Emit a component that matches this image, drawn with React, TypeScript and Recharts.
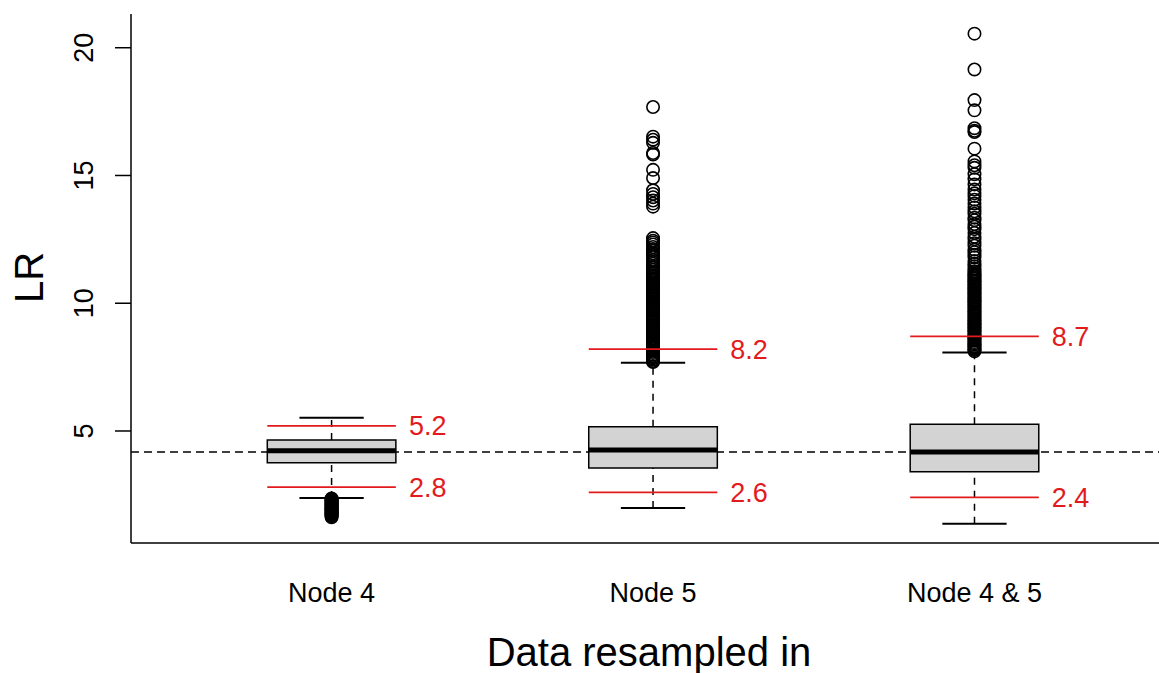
import React from "react";
import {
  ComposedChart,
  XAxis,
  YAxis,
  Scatter,
  ReferenceArea,
  ReferenceLine,
} from "recharts";

// groups on the x axis
const groups = ["Node 4", "Node 5", "Node 4 & 5"];

// box statistics
const lowerWhisker = [2.38, 1.99, 1.37];
const q1 = [3.76, 3.55, 3.4];
const median = [4.23, 4.26, 4.18];
const q3 = [4.65, 5.17, 5.26];
const upperWhisker = [5.52, 7.67, 8.07];

// red cut-off lines and their labels
const upperCut = [5.2, 8.2, 8.7];
const lowerCut = [2.8, 2.6, 2.4];

// dashed horizontal reference
const overallLR = 4.18;

const yTicks = [5, 10, 15, 20];

const node4Outliers = [
  2.36, 2.33, 2.3, 2.27, 2.24, 2.21, 2.18, 2.15, 2.12, 2.09, 2.06, 2.03, 2.0,
  1.97, 1.94, 1.91, 1.88, 1.85, 1.82, 1.79, 1.76, 1.73, 1.7, 1.66, 1.62,
];

const node5Outliers = [
  17.68, 16.52, 16.4, 16.28, 15.88, 15.82, 15.22, 14.9, 14.42, 14.28, 14.15,
  14.02, 13.9, 13.78, 12.55, 12.45, 12.38, 12.3, 12.2, 12.12, 12.05, 11.95,
  11.88, 11.8, 11.7, 11.62, 11.55, 11.45, 11.38, 11.3, 11.22, 11.16, 11.1,
  11.05, 10.99, 10.93, 10.88, 10.82, 10.76, 10.71, 10.65, 10.6, 10.54, 10.48,
  10.43, 10.37, 10.31, 10.26, 10.2, 10.15, 10.09, 10.03, 9.98, 9.92, 9.87,
  9.81, 9.75, 9.7, 9.64, 9.59, 9.53, 9.47, 9.42, 9.36, 9.31, 9.25, 9.19, 9.14,
  9.08, 9.03, 8.97, 8.92, 8.86, 8.81, 8.75, 8.7, 8.64, 8.59, 8.53, 8.48, 8.42,
  8.37, 8.31, 8.26, 8.21, 8.15, 8.1, 8.05, 7.99, 7.94, 7.89, 7.84, 7.79, 7.74,
  7.7,
];

const node45Outliers = [
  20.55, 19.15, 17.95, 17.55, 16.85, 16.75, 16.7, 16.05, 15.55, 15.4, 15.3,
  15.05, 14.85, 14.65, 14.45, 14.3, 14.2, 14.05, 13.9, 13.75, 13.6, 13.5,
  13.35, 13.25, 13.1, 13.0, 12.9, 12.75, 12.6, 12.5, 12.35, 12.25, 12.1, 12.0,
  11.9, 11.8, 11.65, 11.55, 11.45, 11.35, 11.25, 11.18, 11.12, 11.06, 11.01,
  10.95, 10.89, 10.84, 10.78, 10.72, 10.67, 10.61, 10.55, 10.5, 10.44, 10.38,
  10.33, 10.27, 10.21, 10.16, 10.1, 10.04, 9.99, 9.93, 9.87, 9.82, 9.76, 9.7,
  9.65, 9.59, 9.54, 9.48, 9.42, 9.37, 9.31, 9.26, 9.2, 9.14, 9.09, 9.03, 8.98,
  8.92, 8.87, 8.81, 8.76, 8.7, 8.65, 8.59, 8.54, 8.48, 8.43, 8.38, 8.32, 8.27,
  8.22, 8.17, 8.12,
];

const outlierSets = [node4Outliers, node5Outliers, node45Outliers];

const outlierRows = outlierSets.flatMap((vals, i) =>
  vals.map((y) => ({ x: i + 1, y }))
);

const BOX_HALF = 0.2;
const CAP_HALF = 0.1;
const RED = "#e31a1c";

const OpenCircle = (props: any) => (
  <circle
    cx={props.cx}
    cy={props.cy}
    r={6.2}
    fill="none"
    stroke="#000"
    strokeWidth={1.6}
  />
);

const YTick = (props: any) => {
  const bx = props.x - 22;
  return (
    <text
      x={bx}
      y={props.y}
      transform={`rotate(-90 ${bx} ${props.y})`}
      textAnchor="middle"
      fontSize={27}
      fill="#000"
    >
      {props.payload.value}
    </text>
  );
};

const XTick = (props: any) => (
  <text x={props.x} y={props.y + 59} textAnchor="middle" fontSize={27} fill="#000">
    {groups[props.payload.value - 1]}
  </text>
);

const XTitle = (props: any) => {
  const vb = props.viewBox;
  return (
    <text
      x={vb.x + vb.width / 2 + 4}
      y={vb.y + vb.height - 7}
      textAnchor="middle"
      fontSize={40}
      fill="#000"
    >
      Data resampled in
    </text>
  );
};

const YTitle = (props: any) => {
  const vb = props.viewBox;
  const bx = vb.x + 43;
  const cy = vb.y + vb.height / 2 - 1;
  return (
    <text
      x={bx}
      y={cy}
      transform={`rotate(-90 ${bx} ${cy})`}
      textAnchor="middle"
      fontSize={40}
      fill="#000"
    >
      LR
    </text>
  );
};

export default function App() {
  return (
    <div
      style={{
        position: "absolute",
        left: 0,
        top: 0,
        background: "#fff",
        fontFamily: "'Liberation Sans', Arial, sans-serif",
      }}
    >
      <ComposedChart
        width={1159}
        height={673}
        data={outlierRows}
        margin={{ top: 14, right: 0, bottom: 0, left: 0 }}
      >
        <XAxis
          dataKey="x"
          type="number"
          domain={[0.376, 3.574]}
          allowDataOverflow
          ticks={[1, 2, 3]}
          tick={<XTick />}
          tickLine={false}
          tickSize={0}
          tickMargin={0}
          height={130}
          axisLine={{ stroke: "#000", strokeWidth: 1.5 }}
          label={(p: any) => <XTitle {...p} />}
        />
        <XAxis
          xAxisId="top"
          orientation="top"
          type="number"
          domain={[0.376, 3.574]}
          tick={false}
          tickLine={false}
          height={0}
          axisLine={{ stroke: "#000", strokeWidth: 1.5 }}
        />
        <YAxis
          dataKey="y"
          type="number"
          domain={[0.616, 21.32]}
          allowDataOverflow
          ticks={yTicks}
          width={131}
          tickSize={16}
          tickMargin={0}
          tick={<YTick />}
          tickLine={{ stroke: "#000", strokeWidth: 1.5 }}
          axisLine={{ stroke: "#000", strokeWidth: 1.5 }}
          label={(p: any) => <YTitle {...p} />}
        />

        <ReferenceLine
          y={overallLR}
          stroke="#000"
          strokeWidth={1.5}
          strokeDasharray="8 5"
        />

        {groups.map((g, i) => (
          <ReferenceLine
            key={`wu-${g}`}
            segment={[
              { x: i + 1, y: q3[i] },
              { x: i + 1, y: upperWhisker[i] },
            ]}
            stroke="#000"
            strokeWidth={1.5}
            strokeDasharray="7 6"
          />
        ))}
        {groups.map((g, i) => (
          <ReferenceLine
            key={`wl-${g}`}
            segment={[
              { x: i + 1, y: lowerWhisker[i] },
              { x: i + 1, y: q1[i] },
            ]}
            stroke="#000"
            strokeWidth={1.5}
            strokeDasharray="7 6"
          />
        ))}
        {groups.map((g, i) => (
          <ReferenceLine
            key={`cu-${g}`}
            segment={[
              { x: i + 1 - CAP_HALF, y: upperWhisker[i] },
              { x: i + 1 + CAP_HALF, y: upperWhisker[i] },
            ]}
            stroke="#000"
            strokeWidth={2}
          />
        ))}
        {groups.map((g, i) => (
          <ReferenceLine
            key={`cl-${g}`}
            segment={[
              { x: i + 1 - CAP_HALF, y: lowerWhisker[i] },
              { x: i + 1 + CAP_HALF, y: lowerWhisker[i] },
            ]}
            stroke="#000"
            strokeWidth={2}
          />
        ))}

        {groups.map((g, i) => (
          <ReferenceArea
            key={`box-${g}`}
            x1={i + 1 - BOX_HALF}
            x2={i + 1 + BOX_HALF}
            y1={q1[i]}
            y2={q3[i]}
            fill="#d3d3d3"
            fillOpacity={1}
            stroke="#000"
            strokeWidth={1.5}
            zIndex={450}
          />
        ))}
        {groups.map((g, i) => (
          <ReferenceLine
            key={`med-${g}`}
            segment={[
              { x: i + 1 - BOX_HALF, y: median[i] },
              { x: i + 1 + BOX_HALF, y: median[i] },
            ]}
            stroke="#000"
            strokeWidth={5}
            zIndex={460}
          />
        ))}

        <Scatter
          data={outlierRows}
          dataKey="y"
          shape={(p: any) => <OpenCircle {...p} />}
          isAnimationActive={false}
        />

        {groups.map((g, i) => (
          <ReferenceLine
            key={`ru-${g}`}
            segment={[
              { x: i + 1 - BOX_HALF, y: upperCut[i] },
              { x: i + 1 + BOX_HALF, y: upperCut[i] },
            ]}
            stroke={RED}
            strokeWidth={1.8}
            zIndex={1500}
            label={{
              value: upperCut[i].toFixed(1),
              position: "right",
              offset: 13,
              fill: RED,
              fontSize: 27,
            }}
          />
        ))}
        {groups.map((g, i) => (
          <ReferenceLine
            key={`rl-${g}`}
            segment={[
              { x: i + 1 - BOX_HALF, y: lowerCut[i] },
              { x: i + 1 + BOX_HALF, y: lowerCut[i] },
            ]}
            stroke={RED}
            strokeWidth={1.8}
            zIndex={1500}
            label={{
              value: lowerCut[i].toFixed(1),
              position: "right",
              offset: 13,
              fill: RED,
              fontSize: 27,
            }}
          />
        ))}
      </ComposedChart>
    </div>
  );
}
